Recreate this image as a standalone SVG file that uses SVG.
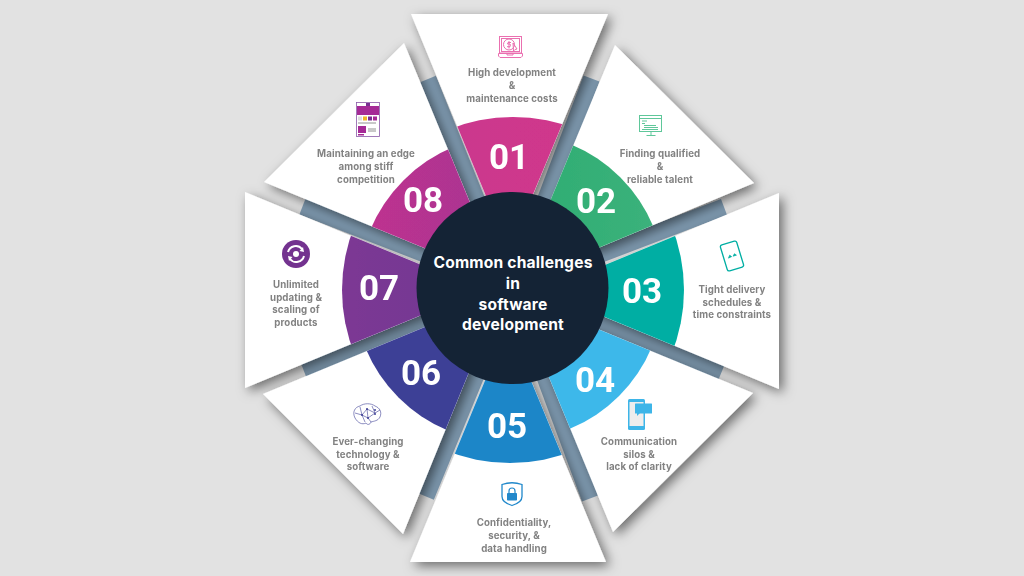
<svg xmlns="http://www.w3.org/2000/svg" width="1024" height="576" viewBox="0 0 1024 576">
<style>
.w{fill:#fff}
.bar{stroke:#7e99af;stroke-width:17;fill:none}
.lbl{font-family:"Inter","Open Sans",sans-serif;font-weight:700;font-size:9.7px;letter-spacing:.1px;fill:#828282;text-anchor:middle}
.num{font-family:"Roboto","Liberation Sans",sans-serif;font-weight:700;font-size:35px;fill:#fff;text-anchor:middle}
.ttl{font-family:"Inter","Open Sans",sans-serif;font-weight:700;font-size:15.6px;letter-spacing:.2px;fill:#fff;text-anchor:middle}
.th{fill:none;stroke-width:1}
</style>
<defs>
<filter id="sh" x="-10%" y="-10%" width="120%" height="120%">
<feDropShadow dx="4" dy="4" stdDeviation="6" flood-color="#000" flood-opacity=".52"/>
</filter>
<linearGradient id="g1" x1="0" x2="1" y1="0" y2="0"><stop offset="0" stop-color="#c5388f"/><stop offset="1" stop-color="#d6368a"/></linearGradient>
<linearGradient id="g2" x1="0" x2="1" y1="0" y2="0"><stop offset="0" stop-color="#1fa767"/><stop offset="1" stop-color="#3cb27c"/></linearGradient>
<linearGradient id="g7" x1="0" x2="1" y1="0" y2="0"><stop offset="0" stop-color="#7c3794"/><stop offset="1" stop-color="#623a90"/></linearGradient>
<linearGradient id="g8" x1="0" x2="1" y1="0" y2="0"><stop offset="0" stop-color="#c0338f"/><stop offset="1" stop-color="#8a3596"/></linearGradient>
<clipPath id="c1"><polygon points="411,14 608,14 509,252"/></clipPath>
<clipPath id="c2"><polygon points="615,45 754,183 516.5,282"/></clipPath>
<clipPath id="c3"><polygon points="779,193 779,389 542,291"/></clipPath>
<clipPath id="c4"><polygon points="753,393 613,532 515,295"/></clipPath>
<clipPath id="c5"><polygon points="410,562 606,562 508,325"/></clipPath>
<clipPath id="c6"><polygon points="403,534 263,394 500,296"/></clipPath>
<clipPath id="c7"><polygon points="245,192 245,388 482,290"/></clipPath>
<clipPath id="c8"><polygon points="264,182 404,43 502,280"/></clipPath>
</defs>
<rect width="1024" height="576" fill="#e2e2e2"/>
<g id="connectors">
<line class="bar" x1="512" y1="288" x2="428" y2="79"/>
<line class="bar" x1="512" y1="288" x2="591.5" y2="78.5"/>
<line class="bar" x1="512" y1="288" x2="724" y2="207"/>
<line class="bar" x1="512" y1="288" x2="721" y2="373.5"/>
<line class="bar" x1="512" y1="288" x2="590" y2="498.5"/>
<line class="bar" x1="512" y1="288" x2="426" y2="496.5"/>
<line class="bar" x1="512" y1="288" x2="303.5" y2="370"/>
<line class="bar" x1="512" y1="288" x2="302.5" y2="206.5"/>
</g>
<g id="nodes" filter="url(#sh)">
<g id="node-01">
<polygon class="w" points="411,14 608,14 509,252"/>
<circle cx="513" cy="290" r="173" fill="url(#g1)" clip-path="url(#c1)"/>
<g class="th" stroke="#ea6fb0"><rect x="499.500" y="36.500" width="22" height="16.500"/><rect x="501.500" y="38.500" width="18" height="13"/><path d="M498.500 53.500h24v2.500l-1.500 1.500h-21l-1.500-1.500zM507 53.500v1.500h6v-1.500"/><circle cx="509" cy="44.500" r="5.500"/><path d="M511 42.500h-3l-.5 1.500h2.500l.5 1.500-.5 1.200h-3M509 41v7.500M513 43l4 6-2 .5-1.500 1.500z"/></g>
<text class="lbl" x="512" y="76">High development</text><text class="lbl" x="512" y="89">&amp;</text><text class="lbl" x="512" y="102">maintenance costs</text>
<text class="num" x="509" y="169">01</text>
</g>
<g id="node-02">
<polygon class="w" points="615,45 754,183 516.5,282"/>
<circle cx="513" cy="285" r="152" fill="url(#g2)" clip-path="url(#c2)"/>
<g class="th" stroke="#5fc79a"><rect x="639.500" y="115.500" width="22" height="16"/><path d="M640 118.500h21M651 132v3M646.500 135.500h9M642 121h5M642 123.500h3M644 125.500h12M644 127.500h14M642 129.500h16"/></g>
<text class="lbl" x="660" y="156.500">Finding qualified</text><text class="lbl" x="660" y="169.500">&amp;</text><text class="lbl" x="660" y="182.500">reliable talent</text>
<text class="num" x="596" y="213">02</text>
</g>
<g id="node-03">
<polygon class="w" points="779,193 779,389 542,291"/>
<circle cx="513" cy="290" r="171" fill="#00aea3" clip-path="url(#c3)"/>
<g transform="rotate(-17 732 256)"><rect x="723.500" y="242.500" width="17" height="27" rx="2" fill="none" stroke="#00aea3" stroke-width="1.300"/><path d="M728 257l2-2.500 1.500 2zM733 256.500l2-2 1.500 2z" fill="#00aea3" stroke="#00aea3" stroke-width=".6"/></g>
<text class="lbl" x="732" y="292.500">Tight delivery</text><text class="lbl" x="732" y="305.500">schedules &amp;</text><text class="lbl" x="732" y="318">time constraints</text>
<text class="num" x="642" y="303">03</text>
</g>
<g id="node-04">
<polygon class="w" points="753,393 613,532 515,295"/>
<circle cx="513" cy="290" r="150" fill="#3eb8ea" clip-path="url(#c4)"/>
<rect x="628" y="399" width="17" height="31" rx="1.500" fill="#3db5e8"/><rect x="629.500" y="402" width="14" height="24" fill="#ededed"/><rect x="635" y="403.500" width="17" height="10" rx=".5" fill="#3db5e8"/><path d="M637 413v3l3-3z" fill="#3db5e8"/>
<text class="lbl" x="639" y="444.500">Communication</text><text class="lbl" x="639" y="457.500">silos &amp;</text><text class="lbl" x="639" y="470">lack of clarity</text>
<text class="num" x="595" y="392">04</text>
</g>
<g id="node-05">
<polygon class="w" points="410,562 606,562 508,325"/>
<circle cx="510" cy="290" r="173" fill="#1f86c8" clip-path="url(#c5)"/>
<path d="M502 484.500q10-3.500 20 0v12q0 6-10 9-10-3-10-9z" fill="none" stroke="#2088cb" stroke-width="1.300"/><path d="M509 493.500v-2.500a3 3 0 0 1 6 0v2.500" fill="none" stroke="#2088cb" stroke-width="1.200"/><rect x="507" y="493" width="10" height="7.500" rx=".8" fill="#2088cb"/>
<text class="lbl" x="514" y="525.500">Confidentiality,</text><text class="lbl" x="514" y="538.500">security, &amp;</text><text class="lbl" x="514" y="551.500">data handling</text>
<text class="num" x="507" y="438">05</text>
</g>
<g id="node-06">
<polygon class="w" points="403,534 263,394 500,296"/>
<circle cx="506" cy="290" r="152" fill="#3e3f96" clip-path="url(#c6)"/>
<g fill="none" stroke="#3e3f96" stroke-width=".6"><path d="M355 418c-3-6 0-11 5-12 4-3 11-3 15 0 5 2 7 6 5 11-2 4-6 4-9 5-1 3-4 3-5 1-4 2-8 0-11-5z"/><path d="M360 407l2 8 6 3 7-5-3-7M355 413l7 2 5-6 8 4 5-3M362 415l3 7M368 418l3 4M367 409l1 9"/></g>
<g fill="#3e3f96"><circle cx="362" cy="415" r="1"/><circle cx="367" cy="409" r="1"/><circle cx="375" cy="410" r="1"/><circle cx="368" cy="418" r="1"/><circle cx="375" cy="414" r="1"/></g>
<text class="lbl" x="368" y="444.500">Ever-changing</text><text class="lbl" x="368" y="457.500">technology &amp;</text><text class="lbl" x="368" y="470">software</text>
<text class="num" x="421" y="385">06</text>
</g>
<g id="node-07">
<polygon class="w" points="245,192 245,388 482,290"/>
<circle cx="513" cy="290" r="171" fill="url(#g7)" clip-path="url(#c7)"/>
<circle cx="296" cy="254" r="14" fill="#73308f"/><circle cx="296" cy="254" r="3" fill="#fff"/><path d="M288 252a8 8 0 0 1 14-3M304 256a8 8 0 0 1-14 3" fill="none" stroke="#fff" stroke-width="2"/><path d="M304 252l-4.500-1 3.500-4zM288 256l4.500 1-3.500 4z" fill="#fff"/>
<text class="lbl" x="296" y="287.500">Unlimited</text><text class="lbl" x="296" y="300.500">updating &amp;</text><text class="lbl" x="296" y="313">scaling of</text><text class="lbl" x="296" y="326">products</text>
<text class="num" x="379" y="300">07</text>
</g>
<g id="node-08">
<polygon class="w" points="264,182 404,43 502,280"/>
<circle cx="513" cy="290" r="155" fill="url(#g8)" clip-path="url(#c8)"/>
<rect x="356.500" y="102.500" width="23" height="34" fill="#fff" stroke="#8a5aa8" stroke-width=".8"/><rect x="357" y="106" width="22" height="9" fill="#a52a96"/><rect x="366" y="103" width="4" height="3" fill="#7a2f92"/><rect x="358" y="116.500" width="4" height="4" fill="#ddd"/><rect x="363" y="116.500" width="4" height="4" fill="#f0b429"/><rect x="368" y="116.500" width="4" height="4" fill="#7a2f92"/><rect x="373" y="116.500" width="4" height="4" fill="#a52a96"/><rect x="358" y="126" width="8" height="7" fill="#a52a96"/><path d="M368 129h8M368 131h8M358 123h18" stroke="#777" stroke-width=".8" fill="none"/><rect x="358" y="134" width="6" height="1.500" fill="#a52a96"/>
<text class="lbl" x="366" y="156.500">Maintaining an edge</text><text class="lbl" x="366" y="169.500">among stiff</text><text class="lbl" x="366" y="182.500">competition</text>
<text class="num" x="423" y="212">08</text>
</g>
</g>
<g id="center">
<circle cx="512.500" cy="288" r="96" fill="#142335"/>
<text class="ttl" x="513" y="268">Common challenges</text><text class="ttl" x="513" y="289">in</text><text class="ttl" x="513" y="310">software</text><text class="ttl" x="513" y="330">development</text>
</g>
</svg>
